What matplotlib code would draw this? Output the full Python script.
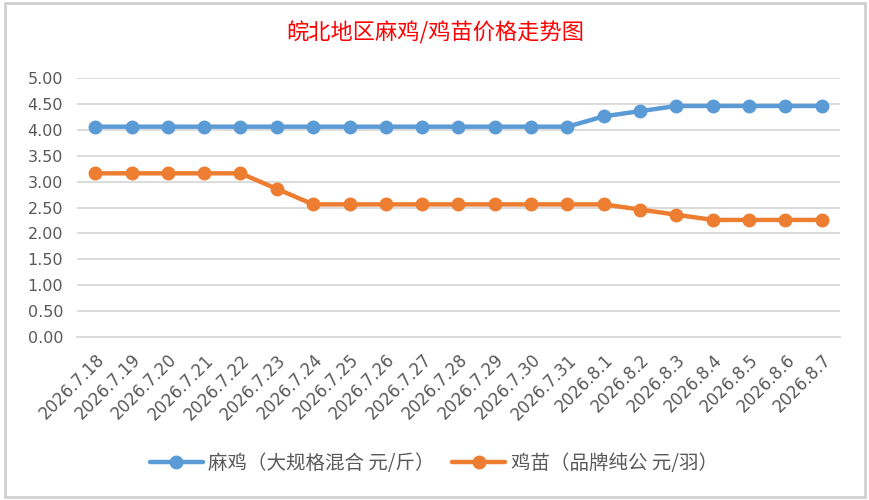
import matplotlib
matplotlib.use('Agg')
import matplotlib.pyplot as plt
from matplotlib.patches import Rectangle

plt.rcParams['font.family'] = ['DejaVu Sans', 'Noto Sans CJK SC']

# Data
dates = ['2026.7.18', '2026.7.19', '2026.7.20', '2026.7.21', '2026.7.22',
         '2026.7.23', '2026.7.24', '2026.7.25', '2026.7.26', '2026.7.27',
         '2026.7.28', '2026.7.29', '2026.7.30', '2026.7.31', '2026.8.1',
         '2026.8.2', '2026.8.3', '2026.8.4', '2026.8.5', '2026.8.6', '2026.8.7']
maji = [4.06, 4.06, 4.06, 4.06, 4.06, 4.06, 4.06, 4.06, 4.06, 4.06,
        4.06, 4.06, 4.06, 4.06, 4.26, 4.36, 4.46, 4.46, 4.46, 4.46, 4.46]
jimiao = [3.16, 3.16, 3.16, 3.16, 3.16, 2.86, 2.56, 2.56, 2.56, 2.56,
          2.56, 2.56, 2.56, 2.56, 2.56, 2.46, 2.36, 2.26, 2.26, 2.26, 2.26]
yticks = [0.0, 0.5, 1.0, 1.5, 2.0, 2.5, 3.0, 3.5, 4.0, 4.5, 5.0]
title = '皖北地区麻鸡/鸡苗价格走势图'
label_maji = '麻鸡（大规格混合 元/斤）'
label_jimiao = '鸡苗（品牌纯公 元/羽）'

blue = '#5B9BD5'
orange = '#ED7D31'
txt = '#595959'

fig = plt.figure(figsize=(8.7, 5.0), dpi=100)
fig.patch.set_facecolor('white')
# chart frame like the spreadsheet chart box
fig.patches.append(Rectangle((5 / 870, 3 / 500), 860 / 870, 494 / 500,
                             transform=fig.transFigure, fill=False,
                             edgecolor='#D0D0D0', linewidth=2.0))

ax = fig.add_axes([77 / 870, 1 - 337 / 500, 763 / 870, 259 / 500])
x = list(range(len(dates)))
ax.plot(x, maji, color=blue, linewidth=3.2, marker='o', markersize=9,
        label=label_maji, solid_capstyle='round')
ax.plot(x, jimiao, color=orange, linewidth=3.2, marker='o', markersize=9,
        label=label_jimiao, solid_capstyle='round')

ax.set_xlim(-0.5, len(dates) - 0.5)
ax.set_ylim(0, 5.0)
ax.set_yticks(yticks)
ax.set_yticklabels(['%.2f' % v for v in yticks], fontsize=11.5, color=txt)
ax.yaxis.grid(True, color='#D9D9D9', linewidth=1.3)
ax.set_axisbelow(True)
ax.set_xticks(x)
ax.set_xticklabels(dates, rotation=45, ha='right', va='top',
                   rotation_mode='anchor', fontsize=12, color=txt)
ax.tick_params(axis='both', length=0)
ax.tick_params(axis='x', pad=10)
ax.tick_params(axis='y', pad=10)
for s in ax.spines.values():
    s.set_visible(False)
ax.spines['bottom'].set_visible(True)
ax.spines['bottom'].set_color('#D9D9D9')
ax.spines['bottom'].set_linewidth(1.3)

fig.text(435 / 870, 1 - 33 / 500, title, ha='center', va='center',
         fontsize=16, color='#FF0000', fontweight='medium',
         family=['Noto Sans CJK SC', 'DejaVu Sans'])

leg = fig.legend(loc='center', bbox_to_anchor=(434 / 870, 1 - 463 / 500),
                 ncol=2, frameon=False, handlelength=2.7, columnspacing=0.9,
                 handletextpad=0.3,
                 prop={'family': ['Noto Sans CJK SC', 'DejaVu Sans'], 'size': 14})
for t in leg.get_texts():
    t.set_color(txt)

fig.savefig('out.png', dpi=100)
